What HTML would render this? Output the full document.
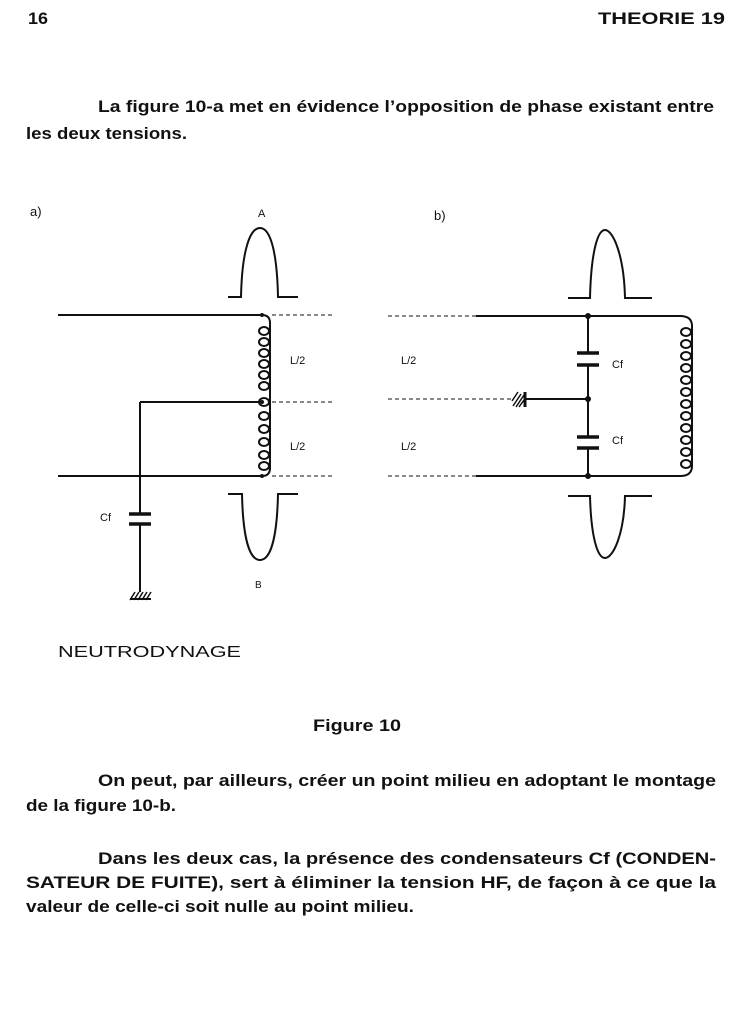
<!DOCTYPE html>
<html><head><meta charset="utf-8"><style>
html,body{margin:0;padding:0;background:#fff;width:749px;height:1024px;overflow:hidden}
svg{display:block}
.t{font-family:"Liberation Sans Narrow","Liberation Sans",sans-serif;font-weight:bold;font-size:17px;fill:#111}
.s{font-family:"Liberation Sans",sans-serif;font-size:11px;fill:#111}
</style></head><body>
<svg width="749" height="1024" viewBox="0 0 749 1024" xmlns="http://www.w3.org/2000/svg">
<g class="t">
<text x="28" y="24" textLength="20" lengthAdjust="spacingAndGlyphs">16</text>
<text x="598" y="24" textLength="127" lengthAdjust="spacingAndGlyphs">THEORIE 19</text>
<text x="98" y="112" textLength="616" lengthAdjust="spacingAndGlyphs">La figure 10-a met en évidence l’opposition de phase existant entre</text>
<text x="26" y="139" textLength="161" lengthAdjust="spacingAndGlyphs">les deux tensions.</text>
<text x="313" y="731" textLength="88" lengthAdjust="spacingAndGlyphs">Figure 10</text>
<text x="98" y="786" textLength="618" lengthAdjust="spacingAndGlyphs">On peut, par ailleurs, créer un point milieu en adoptant le montage</text>
<text x="26" y="811" textLength="150" lengthAdjust="spacingAndGlyphs">de la figure 10-b.</text>
<text x="98" y="864" textLength="618" lengthAdjust="spacingAndGlyphs">Dans les deux cas, la présence des condensateurs Cf (CONDEN-</text>
<text x="26" y="888" textLength="690" lengthAdjust="spacingAndGlyphs">SATEUR DE FUITE), sert à éliminer la tension HF, de façon à ce que la</text>
<text x="26" y="912" textLength="388" lengthAdjust="spacingAndGlyphs">valeur de celle-ci soit nulle au point milieu.</text>
</g>
<text x="58" y="657" font-family="Liberation Sans,sans-serif" font-size="16" fill="#111" textLength="183" lengthAdjust="spacingAndGlyphs">NEUTRODYNAGE</text>
<g class="s">
<text x="30" y="216" font-size="13">a)</text>
<text x="258" y="217">A</text>
<text x="434" y="220" font-size="13">b)</text>
<text x="290" y="364">L/2</text>
<text x="290" y="450">L/2</text>
<text x="401" y="364">L/2</text>
<text x="401" y="450">L/2</text>
<text x="100" y="521">Cf</text>
<text x="612" y="368">Cf</text>
<text x="612" y="444">Cf</text>
<text x="255" y="588" font-size="10">B</text>
</g>
<g stroke="#111" fill="none" stroke-width="2">
<!-- left diagram -->
<path d="M58 315 H262 Q270 315 270 323 V468 Q270 476 262 476 H58"/>
<path d="M140 402 H262 M140 402 V514 M140 524 V592"/>
<path d="M129 514 H151 M129 524 H151" stroke-width="3.5"/>
<path d="M228 297 H241 C242 250 250 228 260 228 C270 228 277 250 278 297 H298"/>
<path d="M228 494 H242 C243 540 250 560 260 560 C270 560 277 540 278 494 H298"/>
<!-- right diagram -->
<path d="M476 316 H680 Q692 316 692 326 V466 Q692 476 680 476 H476"/>
<path d="M588 316 V353 M588 365 V437 M588 448 V476 M525 399 H588"/>
<path d="M577 353 H599 M577 365 H599 M577 437 H599 M577 448 H599" stroke-width="3.5"/>
<path d="M568 298 H590 C591 255 597 230 605 230 C613 230 624 255 625 298 H652"/>
<path d="M568 496 H590 C591 535 597 558 605 558 C613 558 624 535 625 496 H652"/>
</g>
<g stroke="#111" stroke-width="1" stroke-dasharray="4 3" fill="none">
<path d="M272 315 H335 M272 402 H335 M272 476 H335"/>
<path d="M388 316 H476 M388 399 H512 M388 476 H476"/>
</g>
<g fill="#111">
<circle cx="588" cy="316" r="3"/><circle cx="588" cy="399" r="3"/><circle cx="588" cy="476" r="3"/>
<circle cx="262" cy="402" r="2"/><circle cx="262" cy="476" r="2"/><circle cx="262" cy="315" r="2"/>
</g>
<!-- coils -->
<g stroke="#111" stroke-width="2" fill="none">
<ellipse cx="264" cy="331" rx="5" ry="4"/><ellipse cx="264" cy="342" rx="5" ry="4"/><ellipse cx="264" cy="353" rx="5" ry="4"/>
<ellipse cx="264" cy="364" rx="5" ry="4"/><ellipse cx="264" cy="375" rx="5" ry="4"/><ellipse cx="264" cy="386" rx="5" ry="4"/>
<ellipse cx="264" cy="402" rx="5" ry="4"/><ellipse cx="264" cy="416" rx="5" ry="4"/><ellipse cx="264" cy="429" rx="5" ry="4"/>
<ellipse cx="264" cy="442" rx="5" ry="4"/><ellipse cx="264" cy="455" rx="5" ry="4"/><ellipse cx="264" cy="466" rx="5" ry="4"/>
<ellipse cx="686" cy="332" rx="5" ry="4"/><ellipse cx="686" cy="344" rx="5" ry="4"/><ellipse cx="686" cy="356" rx="5" ry="4"/>
<ellipse cx="686" cy="368" rx="5" ry="4"/><ellipse cx="686" cy="380" rx="5" ry="4"/><ellipse cx="686" cy="392" rx="5" ry="4"/>
<ellipse cx="686" cy="404" rx="5" ry="4"/><ellipse cx="686" cy="416" rx="5" ry="4"/><ellipse cx="686" cy="428" rx="5" ry="4"/>
<ellipse cx="686" cy="440" rx="5" ry="4"/><ellipse cx="686" cy="452" rx="5" ry="4"/><ellipse cx="686" cy="464" rx="5" ry="4"/>
</g>
<!-- grounds -->
<g stroke="#111" stroke-width="1.5">
<path d="M130 600 L135 592 M134 600 L139 592 M138 600 L143 592 M142 600 L147 592 M146 600 L151 592"/>
<path d="M130 599 H151" stroke-width="2"/>
<path d="M525 392 V407" stroke-width="3"/>
<path d="M513 406 L521 394 M516 407 L524 395 M512 401 L518 392 M519 407 L524 400"/>
</g>
</svg>
</body></html>
